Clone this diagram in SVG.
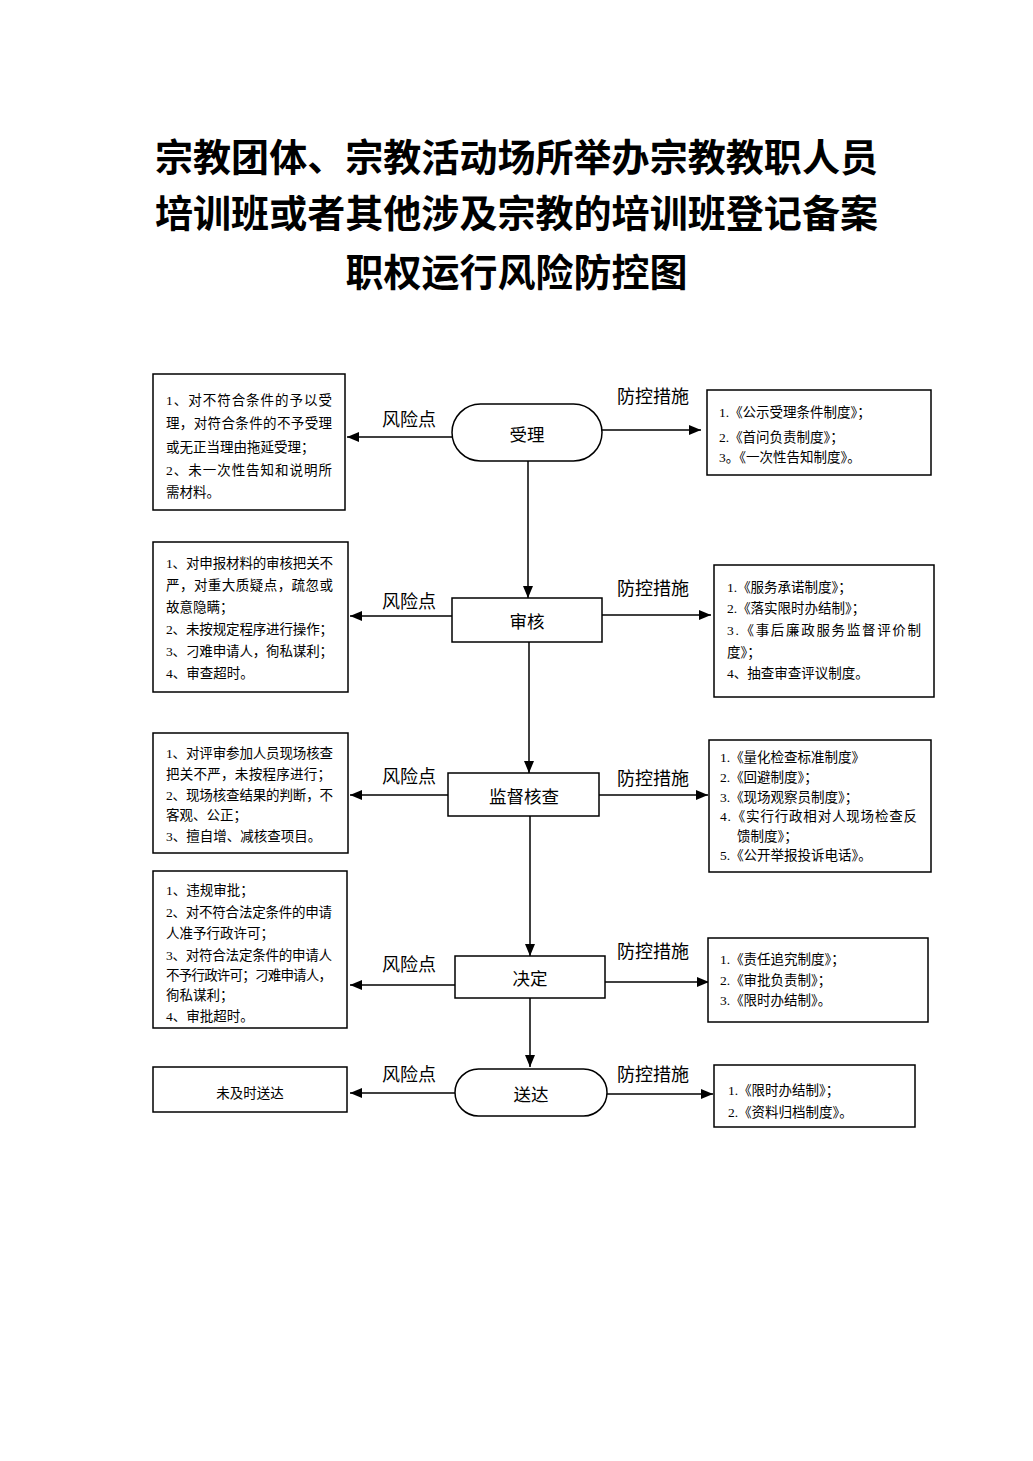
<svg xmlns="http://www.w3.org/2000/svg" width="1033" height="1461" viewBox="0 0 1033 1461">
<defs>
<marker id="ah" markerUnits="userSpaceOnUse" markerWidth="12" markerHeight="10" refX="12" refY="5" orient="auto">
<path d="M0,0 L12,5 L0,10 z" fill="#000"/>
</marker>
<style>
.bx{fill:#fff;stroke:#000;stroke-width:1.5}
.ln{fill:none;stroke:#000;stroke-width:1.5}
.ar{fill:none;stroke:#000;stroke-width:1.5;marker-end:url(#ah)}
.title{font-family:"Noto Sans CJK SC",sans-serif;font-weight:700;font-size:38px;fill:#000}
.lb{font-family:"Noto Sans CJK SC",sans-serif;font-size:18px;fill:#000;dominant-baseline:central;text-anchor:middle}
.nd{font-family:"Noto Sans CJK SC",sans-serif;font-size:17.5px;fill:#000;dominant-baseline:central;text-anchor:middle}
.tl{font-family:"Liberation Serif","Noto Sans CJK SC",serif;font-size:13.5px;fill:#000;dominant-baseline:central}
.tr{font-family:"Liberation Serif","Noto Sans CJK SC",serif;font-size:13.5px;fill:#000;dominant-baseline:central}
</style>
</defs>
<rect width="1033" height="1461" fill="#fff"/>

<g id="title">
<text class="title" x="155" y="171" textLength="723" lengthAdjust="spacingAndGlyphs">宗教团体、宗教活动场所举办宗教教职人员</text>
<text class="title" x="155" y="227" textLength="723" lengthAdjust="spacingAndGlyphs">培训班或者其他涉及宗教的培训班登记备案</text>
<text class="title" x="516.5" y="286" text-anchor="middle">职权运行风险防控图</text>
</g>

<g id="connectors">
<line class="ar" x1="452" y1="437" x2="347" y2="437"/>
<line class="ar" x1="602" y1="430" x2="701" y2="430"/>
<line class="ar" x1="528" y1="461" x2="528" y2="598"/>
<line class="ar" x1="452" y1="616" x2="350" y2="616"/>
<line class="ar" x1="602" y1="615" x2="711" y2="615"/>
<line class="ar" x1="529" y1="642" x2="529" y2="773"/>
<line class="ar" x1="448" y1="795" x2="350" y2="795"/>
<line class="ar" x1="598" y1="795" x2="708" y2="795"/>
<line class="ar" x1="530" y1="816" x2="530" y2="956"/>
<line class="ar" x1="455" y1="985" x2="350" y2="985"/>
<line class="ar" x1="605" y1="982" x2="709" y2="982"/>
<line class="ar" x1="530" y1="998" x2="530" y2="1067"/>
<line class="ar" x1="455" y1="1093" x2="350" y2="1093"/>
<line class="ar" x1="607" y1="1094" x2="713" y2="1094"/>
<text class="lb" x="409" y="418">风险点</text>
<text class="lb" x="653" y="395">防控措施</text>
<text class="lb" x="409" y="600">风险点</text>
<text class="lb" x="653" y="587">防控措施</text>
<text class="lb" x="409" y="775">风险点</text>
<text class="lb" x="653" y="777">防控措施</text>
<text class="lb" x="409" y="963">风险点</text>
<text class="lb" x="653" y="950">防控措施</text>
<text class="lb" x="409" y="1073">风险点</text>
<text class="lb" x="653" y="1073">防控措施</text>
</g>

<g id="n-shouli">
<rect class="bx" x="452" y="404" width="150" height="57" rx="28.5" ry="28.5"/>
<text class="nd" x="527" y="433">受理</text>
</g>
<g id="n-shenhe">
<rect class="bx" x="452" y="598" width="150" height="44"/>
<text class="nd" x="527" y="620">审核</text>
</g>
<g id="n-jiandu">
<rect class="bx" x="448" y="773" width="151" height="43"/>
<text class="nd" x="524" y="795">监督核查</text>
</g>
<g id="n-jueding">
<rect class="bx" x="455" y="956" width="150" height="42"/>
<text class="nd" x="530" y="977">决定</text>
</g>
<g id="n-songda">
<rect class="bx" x="455" y="1069" width="152" height="47" rx="23.5" ry="23.5"/>
<text class="nd" x="531" y="1093">送达</text>
</g>

<g id="risk1">
<rect class="bx" x="153" y="374" width="192" height="136"/>
<text class="tl" x="166" y="400" textLength="166" lengthAdjust="spacing">1、对不符合条件的予以受</text>
<text class="tl" x="166" y="423" textLength="166" lengthAdjust="spacing">理，对符合条件的不予受理</text>
<text class="tl" x="166" y="447">或无正当理由拖延受理；</text>
<text class="tl" x="166" y="470" textLength="166" lengthAdjust="spacing">2、未一次性告知和说明所</text>
<text class="tl" x="166" y="492">需材料。</text>
</g>
<g id="ctrl1">
<rect class="bx" x="707" y="390" width="224" height="85"/>
<text class="tr" x="719" y="412">1.《公示受理条件制度》；</text>
<text class="tr" x="719" y="437">2.《首问负责制度》；</text>
<text class="tr" x="719" y="457">3。《一次性告知制度》。</text>
</g>

<g id="risk2">
<rect class="bx" x="153" y="542" width="195" height="150"/>
<text class="tl" x="166" y="563" textLength="167" lengthAdjust="spacing">1、对申报材料的审核把关不</text>
<text class="tl" x="166" y="585" textLength="167" lengthAdjust="spacing">严，对重大质疑点，疏忽或</text>
<text class="tl" x="166" y="607">故意隐瞒；</text>
<text class="tl" x="166" y="629" textLength="167" lengthAdjust="spacing">2、未按规定程序进行操作；</text>
<text class="tl" x="166" y="651" textLength="167" lengthAdjust="spacing">3、刁难申请人，徇私谋利；</text>
<text class="tl" x="166" y="673">4、审查超时。</text>
</g>
<g id="ctrl2">
<rect class="bx" x="714" y="565" width="220" height="132"/>
<text class="tr" x="727" y="587">1.《服务承诺制度》；</text>
<text class="tr" x="727" y="608">2.《落实限时办结制》；</text>
<text class="tr" x="727" y="630" textLength="194" lengthAdjust="spacing">3.《事后廉政服务监督评价制</text>
<text class="tr" x="727" y="652">度》；</text>
<text class="tr" x="727" y="673">4、抽查审查评议制度。</text>
</g>

<g id="risk3">
<rect class="bx" x="153" y="733" width="195" height="120"/>
<text class="tl" x="166" y="753" textLength="167" lengthAdjust="spacing">1、对评审参加人员现场核查</text>
<text class="tl" x="166" y="774" textLength="165" lengthAdjust="spacing">把关不严，未按程序进行；</text>
<text class="tl" x="166" y="795" textLength="167" lengthAdjust="spacing">2、现场核查结果的判断，不</text>
<text class="tl" x="166" y="815">客观、公正；</text>
<text class="tl" x="166" y="836">3、擅自增、减核查项目。</text>
</g>
<g id="ctrl3">
<rect class="bx" x="709" y="740" width="222" height="132"/>
<text class="tr" x="720" y="757">1.《量化检查标准制度》</text>
<text class="tr" x="720" y="777">2.《回避制度》；</text>
<text class="tr" x="720" y="797">3.《现场观察员制度》；</text>
<text class="tr" x="720" y="816" textLength="197" lengthAdjust="spacing">4.《实行行政相对人现场检查反</text>
<text class="tr" x="737" y="836">馈制度》；</text>
<text class="tr" x="720" y="855">5.《公开举报投诉电话》。</text>
</g>

<g id="risk4">
<rect class="bx" x="153" y="871" width="194" height="157"/>
<text class="tl" x="166" y="890">1、违规审批；</text>
<text class="tl" x="166" y="912" textLength="166" lengthAdjust="spacing">2、对不符合法定条件的申请</text>
<text class="tl" x="166" y="933">人准予行政许可；</text>
<text class="tl" x="166" y="955" textLength="166" lengthAdjust="spacing">3、对符合法定条件的申请人</text>
<text class="tl" x="166" y="975" textLength="166" lengthAdjust="spacing">不予行政许可；刁难申请人，</text>
<text class="tl" x="166" y="995">徇私谋利；</text>
<text class="tl" x="166" y="1016">4、审批超时。</text>
</g>
<g id="ctrl4">
<rect class="bx" x="708" y="938" width="220" height="84"/>
<text class="tr" x="720" y="959">1.《责任追究制度》；</text>
<text class="tr" x="720" y="980">2.《审批负责制》；</text>
<text class="tr" x="720" y="1000">3.《限时办结制》。</text>
</g>

<g id="risk5">
<rect class="bx" x="153" y="1067" width="194" height="45"/>
<text class="tl" x="250" y="1093" text-anchor="middle">未及时送达</text>
</g>
<g id="ctrl5">
<rect class="bx" x="714" y="1065" width="201" height="62"/>
<text class="tr" x="728" y="1090">1.《限时办结制》；</text>
<text class="tr" x="728" y="1112">2.《资料归档制度》。</text>
</g>
</svg>
